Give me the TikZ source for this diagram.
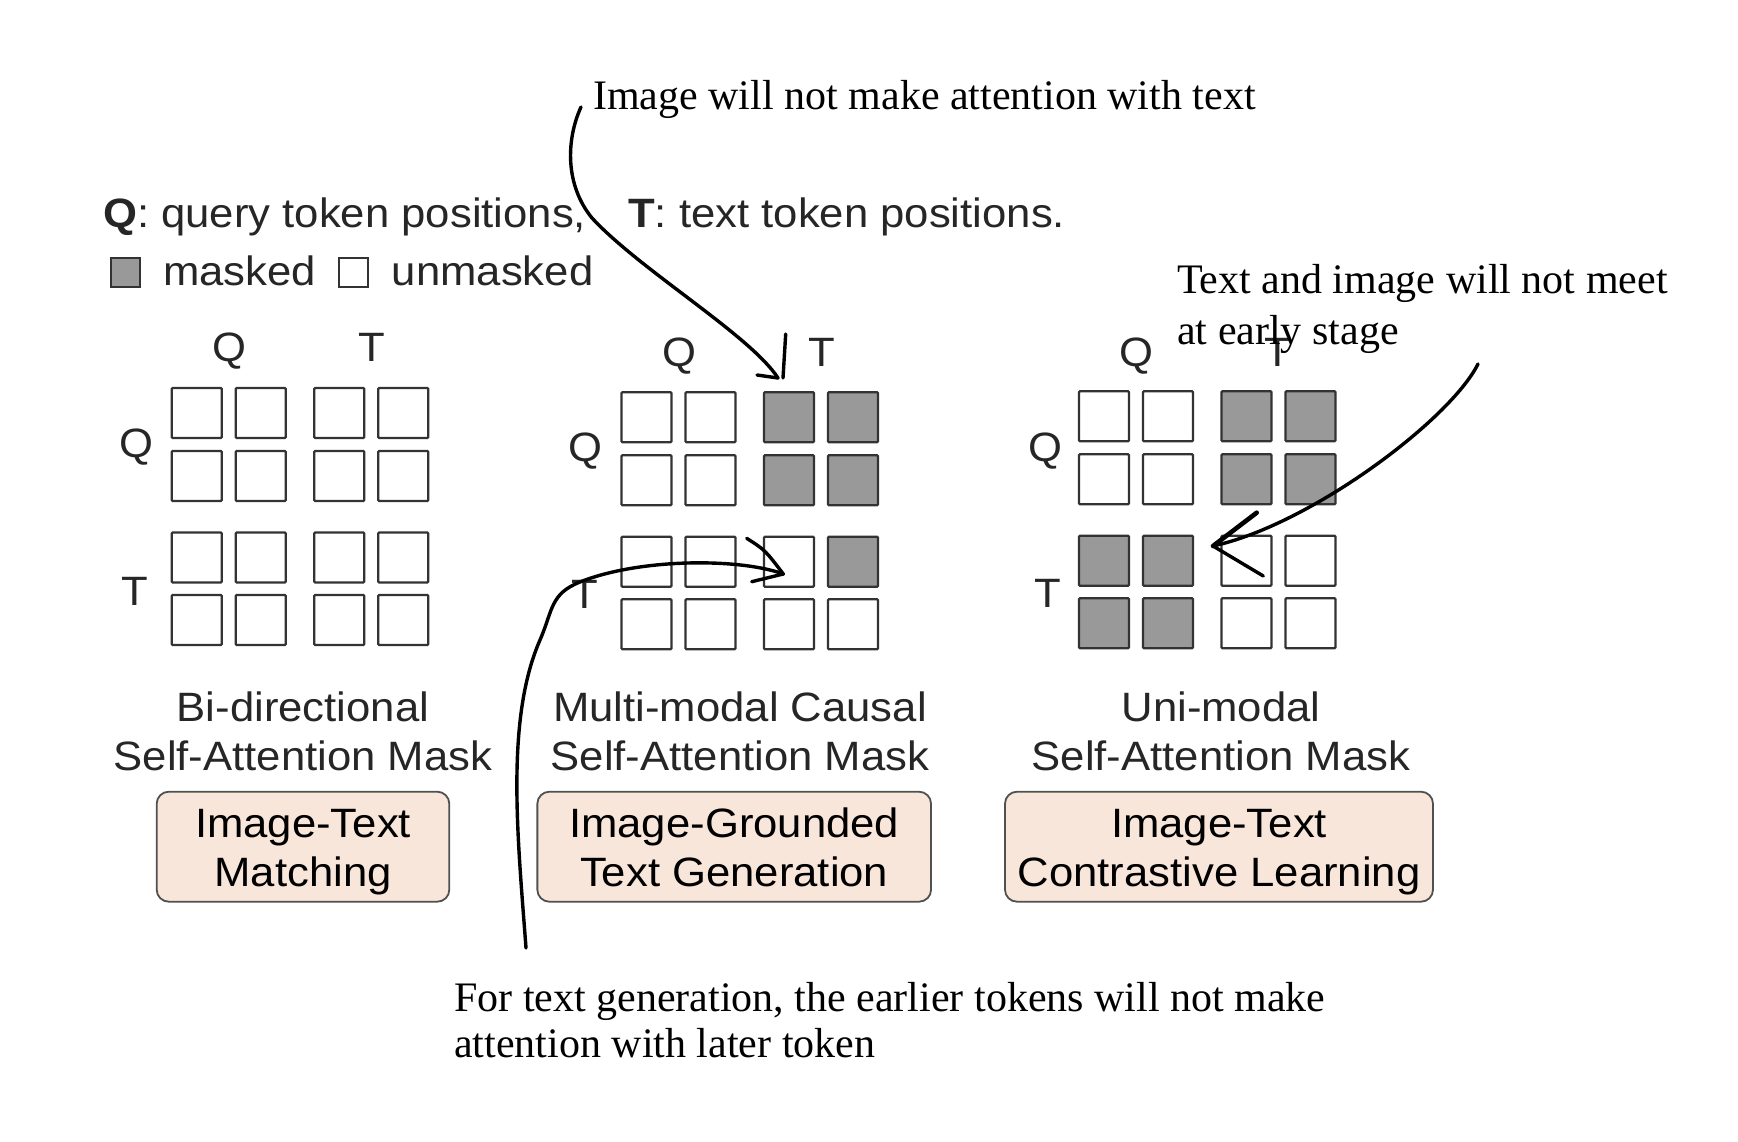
\documentclass[tikz,border=0pt]{standalone}
\usepackage{fontspec}
\newfontfamily\hsans[FakeStretch=1.065]{Liberation Sans}
\newfontfamily\tserif{Liberation Serif}
\definecolor{cellline}{HTML}{333333}
\definecolor{maskgray}{HTML}{999999}
\definecolor{sanscol}{HTML}{262626}
\definecolor{boxfill}{HTML}{F8E6DA}
\definecolor{boxline}{HTML}{505050}
\newcommand\topstrut{\rule{0pt}{40pt}}
\newcommand\botstrut{\rule[-8.6pt]{0pt}{8.6pt}}
\begin{document}
\begin{tikzpicture}[x=1pt,y=-1pt,
  cell/.style={draw=cellline, line width=2.3pt, minimum size=50pt, inner sep=0pt, rounded corners=1pt, fill=white},
  legsq/.style={draw=cellline, line width=2pt, minimum size=29pt, inner sep=0pt, fill=white},
  lbl/.style={font=\hsans\fontsize{41}{49}\selectfont, text=sanscol, inner sep=0pt, anchor=base},
  note/.style={font=\tserif\fontsize{42}{48}\selectfont, text=black, inner sep=0pt, anchor=base west},
  task/.style={draw=boxline, fill=boxfill, line width=1.8pt, rounded corners=12pt, align=center,
    font=\hsans\fontsize{41}{49}\selectfont, text=black, inner sep=0pt, minimum height=110pt},
  stroke/.style={draw=black, line width=3.4pt, line cap=round, line join=round}]
\fill[white] (0,0) rectangle (1738,1142);
\useasboundingbox (0,0) rectangle (1738,1142);

% legend
\node[lbl, anchor=base west] (legQ) at (103,228) {\textbf{Q}: query token positions,};
\node[lbl, anchor=base west] (legT) at (628,228) {\textbf{T}: text token positions.};
\node[legsq, fill=maskgray] (legM) at (125.5,272.5) {};
\node[lbl, anchor=base west] (legm) at (163,285) {masked};
\node[legsq] (legU) at (353.8,272.5) {};
\node[lbl, anchor=base west] (legu) at (391.7,285) {unmasked};

% grid 1 : bi-directional
\foreach \n/\dx/\dy/\fc in {11/0/0/white,12/64/0/white,13/142.5/0/white,14/206.5/0/white,
  21/0/63/white,22/64/63/white,23/142.5/63/white,24/206.5/63/white,
  31/0/144.5/white,32/64/144.5/white,33/142.5/144.5/white,34/206.5/144.5/white,
  41/0/207/white,42/64/207/white,43/142.5/207/white,44/206.5/207/white}
  \node[cell, fill=\fc] (a\n) at (196.7+\dx,413+\dy) {};
\node[lbl] (aQt) at (229,361.7) {Q};
\node[lbl] (aTt) at (371.5,361.7) {T};
\node[lbl] (aQl) at (136,457) {Q};
\node[lbl] (aTl) at (135,605) {T};

% grid 2 : multi-modal causal
\foreach \n/\dx/\dy/\fc in {11/0/0/white,12/64/0/white,13/142.5/0/maskgray,14/206.5/0/maskgray,
  21/0/63/white,22/64/63/white,23/142.5/63/maskgray,24/206.5/63/maskgray,
  31/0/144.5/white,32/64/144.5/white,33/142.5/144.5/white,34/206.5/144.5/maskgray,
  41/0/207/white,42/64/207/white,43/142.5/207/white,44/206.5/207/white}
  \node[cell, fill=\fc] (b\n) at (646.5+\dx,417.3+\dy) {};
\node[lbl] (bQt) at (679,366.7) {Q};
\node[lbl] (bTt) at (821.5,366.7) {T};
\node[lbl] (bQl) at (585,461) {Q};
\node[lbl] (bTl) at (585,608) {T};

% grid 3 : uni-modal
\foreach \n/\dx/\dy/\fc in {11/0/0/white,12/64/0/white,13/142.5/0/maskgray,14/206.5/0/maskgray,
  21/0/63/white,22/64/63/white,23/142.5/63/maskgray,24/206.5/63/maskgray,
  31/0/144.5/maskgray,32/64/144.5/maskgray,33/142.5/144.5/white,34/206.5/144.5/white,
  41/0/207/maskgray,42/64/207/maskgray,43/142.5/207/white,44/206.5/207/white}
  \node[cell, fill=\fc] (c\n) at (1104+\dx,416.3+\dy) {};
\node[lbl] (cQt) at (1136.7,366.7) {Q};
\node[lbl] (cTt) at (1278,366.7) {T};
\node[lbl] (cQl) at (1045,461) {Q};
\node[lbl] (cTl) at (1048,607) {T};

% captions
\node[lbl] (cap1a) at (303,721.7) {Bi-directional};
\node[lbl] (cap1b) at (303,770) {Self-Attention Mask};
\node[lbl] (cap2a) at (740,721.7) {Multi-modal Causal};
\node[lbl] (cap2b) at (740,770) {Self-Attention Mask};
\node[lbl] (cap3a) at (1221,721.7) {Uni-modal};
\node[lbl] (cap3b) at (1221,770) {Self-Attention Mask};

% task boxes
\node[task, minimum width=292.6pt] (box1) at (303,846.7) {\topstrut Image-Text\\Matching\botstrut};
\node[task, minimum width=393.7pt] (box2) at (734.2,846.7) {\topstrut Image-Grounded\\Text Generation\botstrut};
\node[task, minimum width=428pt] (box3) at (1219,846.7) {\topstrut Image-Text\\Contrastive Learning\botstrut};

% annotations
\node[note] (n1) at (593,110) {Image will not make attention with text};
\node[note] (n2a) at (1177,293) {Text and image will not meet};
\node[note] (n2b) at (1177,344) {at early stage};
\node[note] (n3a) at (454,1011) {For text generation, the earlier tokens will not make};
\node[note] (n3b) at (454,1057) {attention with later token};

% hand-drawn arrows
\coordinate (a1s) at (581,107);
\coordinate (a1m) at (592,218);
\coordinate (a1t) at (778,378);
\coordinate (a1b) at (757,375);
\coordinate (a1v) at (785.7,334);
\coordinate (a1w) at (783,378);
\draw[stroke] (a1s) .. controls (566,140) and (565,185) .. (a1m)
  .. controls (640,270) and (750,335) .. (a1t);
\draw[stroke] (a1b) -- (a1t);
\draw[stroke] (a1v) -- (a1w);

\coordinate (a2s) at (526,948);
\coordinate (a2k) at (540,640);
\coordinate (a2l) at (580,582);
\coordinate (a2t) at (783.3,574);
\coordinate (a2u) at (746.7,538.3);
\coordinate (a2d) at (751.7,581.7);
\draw[stroke] (a2s) .. controls (518,840) and (505,720) .. (a2k)
  .. controls (553,610) and (550,594) .. (a2l)
  .. controls (640,558) and (740,558) .. (a2t);
\draw[stroke] (a2u) .. controls (765,550) .. (a2t);
\draw[stroke] (a2d) -- (a2t);

\coordinate (a3s) at (1478,364);
\coordinate (a3t) at (1213,546);
\coordinate (a3u) at (1256.7,512.7);
\coordinate (a3d) at (1263.3,576);
\draw[stroke] (a3s) .. controls (1450,420) and (1310,525) .. (a3t);
\draw[stroke, line width=4.6pt] (a3u) -- (a3t);
\draw[stroke] (a3d) -- (a3t);
\end{tikzpicture}
\end{document}
